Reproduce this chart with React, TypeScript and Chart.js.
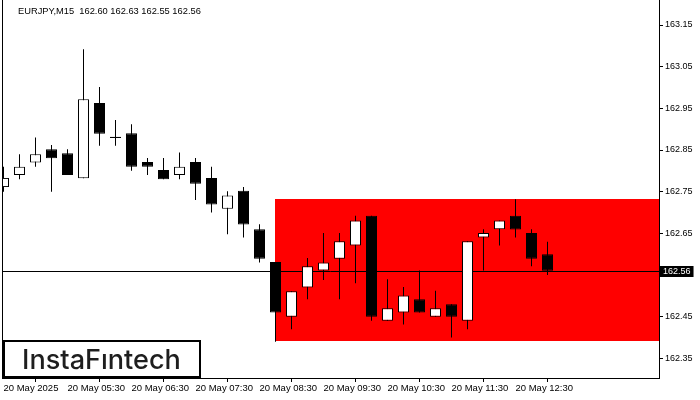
import React, { useEffect, useRef } from "react";
import { Chart, registerables } from "chart.js";

Chart.register(...registerables);

const headerText = "EURJPY,M15  162.60 162.63 162.55 162.56";

const opens = [
  162.761, 162.79, 162.82, 162.852, 162.842, 162.782, 162.963, 162.882, 162.89, 162.821,
  162.802, 162.79, 162.821, 162.783, 162.709, 162.752, 162.66, 162.581, 162.45, 162.52,
  162.561, 162.589, 162.621, 162.692, 162.44, 162.46, 162.492, 162.45, 162.48, 162.44,
  162.64, 162.66, 162.692, 162.651, 162.6,
];
const highs = [
  162.81, 162.84, 162.88, 162.862, 162.852, 163.092, 163.001, 162.922, 162.912, 162.831,
  162.831, 162.844, 162.831, 162.81, 162.751, 162.761, 162.672, 162.581, 162.511, 162.591,
  162.651, 162.651, 162.692, 162.692, 162.54, 162.521, 162.561, 162.512, 162.48, 162.631,
  162.66, 162.681, 162.732, 162.66, 162.63,
];
const lows = [
  162.75, 162.78, 162.81, 162.75, 162.79, 162.782, 162.86, 162.86, 162.8, 162.79,
  162.78, 162.78, 162.73, 162.7, 162.648, 162.64, 162.58, 162.39, 162.42, 162.492,
  162.538, 162.492, 162.53, 162.44, 162.44, 162.431, 162.46, 162.45, 162.4, 162.42,
  162.561, 162.621, 162.64, 162.571, 162.55,
];
const closes = [
  162.783, 162.81, 162.84, 162.83, 162.79, 162.972, 162.889, 162.879, 162.81, 162.81,
  162.78, 162.81, 162.769, 162.719, 162.741, 162.671, 162.589, 162.46, 162.511, 162.571,
  162.58, 162.631, 162.681, 162.45, 162.47, 162.501, 162.46, 162.47, 162.45, 162.631,
  162.651, 162.681, 162.659, 162.589, 162.56,
];

const xTickIndices = [0, 4, 8, 12, 16, 20, 24, 28, 32];
const xTickLabels = [
  "20 May 2025", "20 May 05:30", "20 May 06:30", "20 May 07:30", "20 May 08:30",
  "20 May 09:30", "20 May 10:30", "20 May 11:30", "20 May 12:30",
];
const yTickValues = [162.35, 162.45, 162.55, 162.65, 162.75, 162.85, 162.95, 163.05, 163.15];

const currentPrice = 162.56;
const zoneStartIndex = 17;
const zoneTop = 162.732;
const zoneBottom = 162.392;
const logoText = "InstaF\u0131ntech";

const overlayPlugin = {
  id: "overlay",
  beforeDatasetsDraw(chart: any) {
    const { ctx, chartArea, scales } = chart;
    const x = scales.x;
    const y = scales.y;
    ctx.save();
    const zx = x.getPixelForValue(zoneStartIndex);
    const zt = Math.round(y.getPixelForValue(zoneTop));
    const zb = Math.round(y.getPixelForValue(zoneBottom));
    ctx.fillStyle = "#ff0000";
    ctx.fillRect(Math.floor(zx), zt, chartArea.right - Math.floor(zx), zb - zt);
    const py = Math.round(y.getPixelForValue(currentPrice)) + 0.5;
    ctx.strokeStyle = "#000";
    ctx.lineWidth = 1;
    ctx.beginPath();
    ctx.moveTo(chartArea.left, py);
    ctx.lineTo(chartArea.right, py);
    ctx.stroke();
    ctx.restore();
  },
  afterDatasetsDraw(chart: any) {
    const { ctx, chartArea } = chart;
    ctx.save();
    ctx.strokeStyle = "#000";
    ctx.lineWidth = 1;
    ctx.beginPath();
    ctx.moveTo(chartArea.left + 0.5, chartArea.top);
    ctx.lineTo(chartArea.left + 0.5, chartArea.bottom);
    ctx.stroke();
    ctx.fillStyle = "#fff";
    ctx.fillRect(3, 340, 198, 38);
    ctx.lineWidth = 2;
    ctx.strokeRect(4, 341, 196, 36);
    ctx.fillStyle = "#1e1e1e";
    ctx.font = "500 28px Inter";
    const w = ctx.measureText(logoText).width;
    const size = (28 * 159) / w;
    ctx.font = `500 ${size}px Inter`;
    ctx.textBaseline = "alphabetic";
    ctx.textAlign = "left";
    ctx.fillText(logoText, 22, 369);
    ctx.fillStyle = "#000";
    ctx.font = '9.3px "Liberation Sans"';
    ctx.textBaseline = "middle";
    ctx.fillText(headerText, 18, 11);
    ctx.restore();
  },
  afterDraw(chart: any) {
    const { ctx, chartArea, scales } = chart;
    const py = Math.round(scales.y.getPixelForValue(currentPrice));
    ctx.save();
    ctx.font = '9px "Liberation Sans"';
    const label = currentPrice.toFixed(2);
    const tw = ctx.measureText(label).width;
    ctx.fillStyle = "#000";
    ctx.fillRect(chartArea.right + 1, py - 5, tw + 6, 11);
    ctx.fillStyle = "#fff";
    ctx.textBaseline = "middle";
    ctx.textAlign = "left";
    ctx.fillText(label, chartArea.right + 4, py + 0.5);
    ctx.restore();
  },
};

export default function App() {
  const canvasRef = useRef<HTMLCanvasElement | null>(null);

  useEffect(() => {
    const canvas = canvasRef.current;
    if (!canvas) return;
    const wickData = opens.map((_, i) => ({ x: i, y: [lows[i], highs[i]] }));
    const bodyData = opens.map((o, i) => ({ x: i, y: [o, closes[i]] }));
    const bodyColors = opens.map((o, i) => (closes[i] > o ? "#ffffff" : "#000000"));

    const chart = new Chart(canvas, {
      type: "bar",
      data: {
        datasets: [
          {
            label: "body",
            data: bodyData as any,
            backgroundColor: bodyColors,
            borderColor: "#000",
            borderWidth: 1,
            borderSkipped: false,
            barThickness: 11,
            grouped: false,
            inflateAmount: 0,
            clip: 0,
            order: 1,
          } as any,
          {
            label: "wick",
            data: wickData as any,
            backgroundColor: "#000",
            borderWidth: 0,
            barThickness: 1,
            grouped: false,
            inflateAmount: 0,
            clip: 0,
            order: 2,
          } as any,
        ],
      },
      options: {
        animation: false,
        responsive: false,
        devicePixelRatio: 1,
        layout: { padding: { left: 2, top: 0, right: 0, bottom: 0 } },
        plugins: { legend: { display: false }, tooltip: { enabled: false }, title: { display: false } },
        scales: {
          x: {
            type: "linear",
            min: -0.09375,
            max: 40.96875,
            offset: false,
            afterBuildTicks: (s: any) => {
              s.ticks = xTickIndices.map((v) => ({ value: v }));
            },
            afterFit: (s: any) => {
              s.height = 22;
              s.paddingLeft = 0;
              s.paddingRight = 0;
            },
            grid: { display: true, drawOnChartArea: false, drawTicks: true, tickLength: 4, color: "#000" },
            border: { display: true, color: "#000", width: 1 },
            ticks: {
              autoSkip: false,
              maxRotation: 0,
              minRotation: 0,
              align: "start",
              padding: 1,
              color: "#000",
              font: { family: "Liberation Sans", size: 9.5 },
              callback: (_v: any, i: number) => xTickLabels[i],
            },
          },
          y: {
            type: "linear",
            position: "right",
            min: 162.3028,
            max: 163.21,
            afterBuildTicks: (s: any) => {
              s.ticks = yTickValues.map((v) => ({ value: v }));
            },
            afterFit: (s: any) => {
              s.width = 41;
              s.paddingTop = 0;
              s.paddingBottom = 0;
            },
            grid: { display: true, drawOnChartArea: false, drawTicks: true, tickLength: 4, color: "#000" },
            border: { display: true, color: "#000", width: 1 },
            ticks: {
              autoSkip: false,
              padding: 2,
              color: "#000",
              font: { family: "Liberation Sans", size: 9 },
              callback: (v: any) => Number(v).toFixed(2),
            },
          },
        },
      } as any,
      plugins: [overlayPlugin],
    });
    return () => chart.destroy();
  }, []);

  return (
    <div style={{ position: "fixed", left: 0, top: 0, width: 700, height: 400, background: "#fff" }}>
      <canvas ref={canvasRef} width={700} height={400} style={{ display: "block" }} />
    </div>
  );
}
